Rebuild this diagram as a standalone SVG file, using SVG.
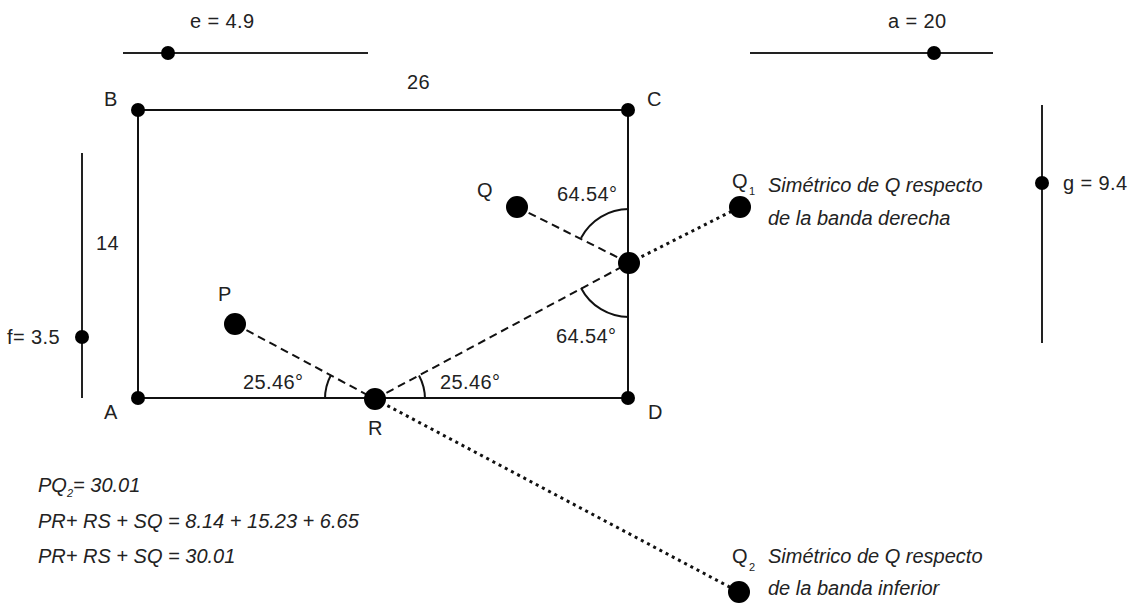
<svg xmlns="http://www.w3.org/2000/svg" width="1134" height="606" viewBox="0 0 1134 606">
<style>
.t{font-family:"Liberation Sans",Arial,sans-serif;font-size:20px;letter-spacing:0.4px;fill:#222}
.i{font-family:"Liberation Sans",Arial,sans-serif;font-size:20px;font-style:italic;fill:#222}
.s{font-size:11px;letter-spacing:0}
.ln{stroke:#111;stroke-width:2;fill:none}
.sl{stroke:#222;stroke-width:2;fill:none}
.da{stroke:#111;stroke-width:2;stroke-dasharray:8 5;fill:none}
.do{stroke:#111;stroke-width:3;stroke-dasharray:3 4;fill:none}
.arc{stroke:#111;stroke-width:2;fill:none}
.pt{fill:#000}
</style>
<rect width="1134" height="606" fill="#fff"/>
<g id="slider-e">
<line class="sl" x1="123" y1="53" x2="368" y2="53"/>
<circle class="pt" cx="168" cy="53" r="7"/>
<text class="t" x="190" y="28">e = 4.9</text>
</g>
<g id="slider-a">
<line class="sl" x1="750" y1="53" x2="993" y2="53"/>
<circle class="pt" cx="934" cy="53" r="7"/>
<text class="t" x="888" y="28">a = 20</text>
</g>
<g id="slider-f">
<line class="sl" x1="82" y1="153" x2="82" y2="398"/>
<circle class="pt" cx="82" cy="337" r="7"/>
<text class="t" x="7" y="344">f= 3.5</text>
</g>
<g id="slider-g">
<line class="sl" x1="1042" y1="105" x2="1042" y2="343"/>
<circle class="pt" cx="1042" cy="183" r="7"/>
<text class="t" x="1063" y="190">g = 9.4</text>
</g>
<g id="connectors">
<line class="da" x1="235" y1="324" x2="375" y2="399"/>
<line class="da" x1="517" y1="207" x2="629" y2="263"/>
<line class="da" x1="375" y1="399" x2="629" y2="263"/>
<line class="do" x1="629" y1="263" x2="740" y2="207"/>
<line class="do" x1="375" y1="399" x2="739" y2="592"/>
</g>
<g id="rectangle">
<polyline class="ln" points="138,398 138,110 628,110 628,398 138,398"/>
<text class="t" x="407" y="89">26</text>
<text class="t" x="96" y="250">14</text>
</g>
<g id="A"><circle class="pt" cx="138" cy="398" r="7"/><text class="t" x="104" y="419">A</text></g>
<g id="B"><circle class="pt" cx="138" cy="110" r="7"/><text class="t" x="104" y="106">B</text></g>
<g id="C"><circle class="pt" cx="628" cy="110" r="7"/><text class="t" x="647" y="106">C</text></g>
<g id="D"><circle class="pt" cx="628" cy="398" r="7"/><text class="t" x="648" y="419">D</text></g>
<g id="P"><circle class="pt" cx="235" cy="324" r="11"/><text class="t" x="218" y="301">P</text></g>
<g id="Q"><circle class="pt" cx="517" cy="207" r="11"/><text class="t" x="477" y="197">Q</text></g>
<g id="S"><circle class="pt" cx="629" cy="263" r="11"/></g>
<g id="R"><circle class="pt" cx="375" cy="399" r="11"/><text class="t" x="368" y="435">R</text></g>
<g id="Q1">
<circle class="pt" cx="740" cy="207" r="11"/>
<text class="t" x="732" y="188">Q<tspan class="s" dx="1" dy="7">1</tspan></text>
<text class="i" x="768" y="192">Simétrico de Q respecto</text>
<text class="i" x="768" y="225">de la banda derecha</text>
</g>
<g id="Q2">
<circle class="pt" cx="739" cy="592" r="11"/>
<text class="t" x="732" y="563">Q<tspan class="s" dx="1" dy="8">2</tspan></text>
<text class="i" x="768" y="563">Simétrico de Q respecto</text>
<text class="i" x="768" y="595">de la banda inferior</text>
</g>
<g id="angles">
<path class="arc" d="M629,209 A54,54 0 0 0 581,238"/>
<path class="arc" d="M629,317 A54,54 0 0 1 581,288"/>
<path class="arc" d="M325,399 A50,50 0 0 1 331,375"/>
<path class="arc" d="M425,399 A50,50 0 0 0 419,375.5"/>
<text class="t" x="557" y="201">64.54°</text>
<text class="t" x="556" y="343">64.54°</text>
<text class="t" x="243" y="389">25.46°</text>
<text class="t" x="440" y="389">25.46°</text>
</g>
<g id="formulas">
<text class="i" x="38" y="492">PQ<tspan class="s" dy="5">2</tspan><tspan dy="-5">= 30.01</tspan></text>
<text class="i" x="38" y="528">PR+ RS + SQ = 8.14 + 15.23 + 6.65</text>
<text class="i" x="38" y="563">PR+ RS + SQ = 30.01</text>
</g>
</svg>
